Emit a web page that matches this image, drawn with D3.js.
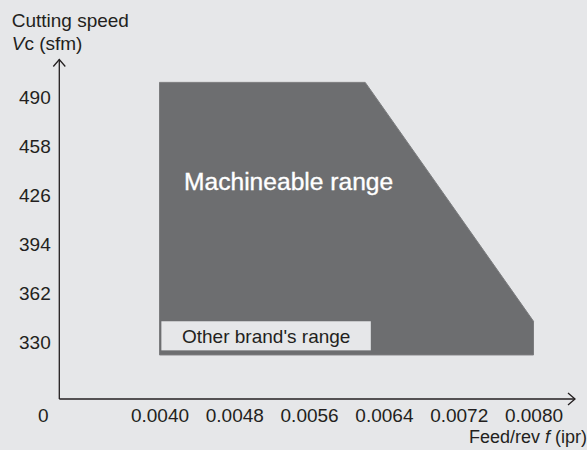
<!DOCTYPE html>
<html><head><meta charset="utf-8">
<script src="https://cdn.jsdelivr.net/npm/d3@7"></script>
<style>html,body{margin:0;padding:0;background:#e6e7e9;overflow:hidden}svg{display:block}</style>
</head><body><svg id="c" width="587" height="450"></svg>
<script>
// ---- data ----
const xTicks = [0.0040, 0.0048, 0.0056, 0.0064, 0.0072, 0.0080];
const xTickLabels = ["0.0040", "0.0048", "0.0056", "0.0064", "0.0072", "0.0080"];
const yTicks = [330, 362, 394, 426, 458, 490];
const yTickLabels = ["330", "362", "394", "426", "458", "490"];
const machineableFeed = [0.0040, 0.0062, 0.0080, 0.0080, 0.0040];
const machineableSpeed = [500, 500, 344, 322, 322];
const otherFeed = [0.00402, 0.00626];
const otherSpeed = [325, 344];

const FONT = "'Liberation Sans', Arial, Helvetica, sans-serif";
const INK = "#231f20";
const svg = d3.select("#c");
svg.append("rect").attr("width", 587).attr("height", 450).attr("fill", "#e6e7e9");

const x = d3.scaleLinear().domain([0.0040, 0.0080]).range([159.5, 533.5]);
const y = d3.scaleLinear().domain([330, 490]).range([342.7, 97.7]);

const ox = 59.3, oy = 399;

// machineable range polygon
const pts = machineableFeed.map((f, i) => [x(f), y(machineableSpeed[i])]);
svg.append("path")
  .attr("d", d3.line()(pts) + "Z")
  .attr("fill", "#6d6e70")
  .attr("stroke", "#7b7c7e").attr("stroke-width", 1).attr("stroke-linejoin", "round");

// other brand's range box
svg.append("rect")
  .attr("x", x(otherFeed[0])).attr("y", y(otherSpeed[1]))
  .attr("width", x(otherFeed[1]) - x(otherFeed[0]))
  .attr("height", y(otherSpeed[0]) - y(otherSpeed[1]))
  .attr("fill", "#e6e7e9");

svg.append("text").attr("x", 184).attr("y", 190)
  .attr("font-family", FONT).attr("font-size", 24.6).attr("fill", "#ffffff")
  .attr("stroke", "#ffffff").attr("stroke-width", 0.35)
  .text("Machineable range");
svg.append("text").attr("x", 182).attr("y", 342.7)
  .attr("font-family", FONT).attr("font-size", 19).attr("fill", INK)
  .text("Other brand's range");

// axes lines with arrows
const ax = svg.append("g").attr("fill", "none").attr("stroke", INK).attr("stroke-width", 1.3);
ax.append("path").attr("d", `M${ox},${oy}V59.5`);
ax.append("path").attr("d", `M${ox - 6},66.5L${ox},59.5L${ox + 6},66.5`);
ax.append("path").attr("d", `M${ox},${oy}H575`);
ax.append("path").attr("d", `M568,${oy - 6}L575,${oy}L568,${oy + 6}`);

// y tick labels
const gy = svg.append("g").attr("transform", `translate(${ox},0)`)
  .call(d3.axisLeft(y).tickValues(yTicks).tickSize(0).tickPadding(8.6)
    .tickFormat((d, i) => yTickLabels[i]));
gy.select(".domain").remove();
gy.selectAll("text").attr("font-family", FONT).attr("font-size", 19).attr("fill", INK);

// x tick labels
const gx = svg.append("g").attr("transform", `translate(0,${oy})`)
  .call(d3.axisBottom(x).tickValues(xTicks).tickSize(0).tickPadding(9.8)
    .tickFormat((d, i) => xTickLabels[i]));
gx.select(".domain").remove();
gx.selectAll("text").attr("font-family", FONT).attr("font-size", 19).attr("fill", INK);

// origin label
svg.append("text").attr("x", 43.3).attr("y", 422.3).attr("text-anchor", "middle")
  .attr("font-family", FONT).attr("font-size", 19).attr("fill", INK).text("0");

// axis titles
svg.append("text").attr("x", 11.7).attr("y", 26.7)
  .attr("font-family", FONT).attr("font-size", 19).attr("fill", INK).text("Cutting speed");
const t2 = svg.append("text").attr("x", 11.7).attr("y", 50)
  .attr("font-family", FONT).attr("font-size", 19).attr("fill", INK);
t2.append("tspan").attr("font-style", "italic").text("V");
t2.append("tspan").text("c (sfm)");

const t3 = svg.append("text").attr("x", 587).attr("y", 443).attr("text-anchor", "end")
  .attr("font-family", FONT).attr("font-size", 18).attr("fill", INK);
t3.append("tspan").text("Feed/rev ");
t3.append("tspan").attr("font-style", "italic").text("f");
t3.append("tspan").text(" (ipr)");
</script></body></html>
